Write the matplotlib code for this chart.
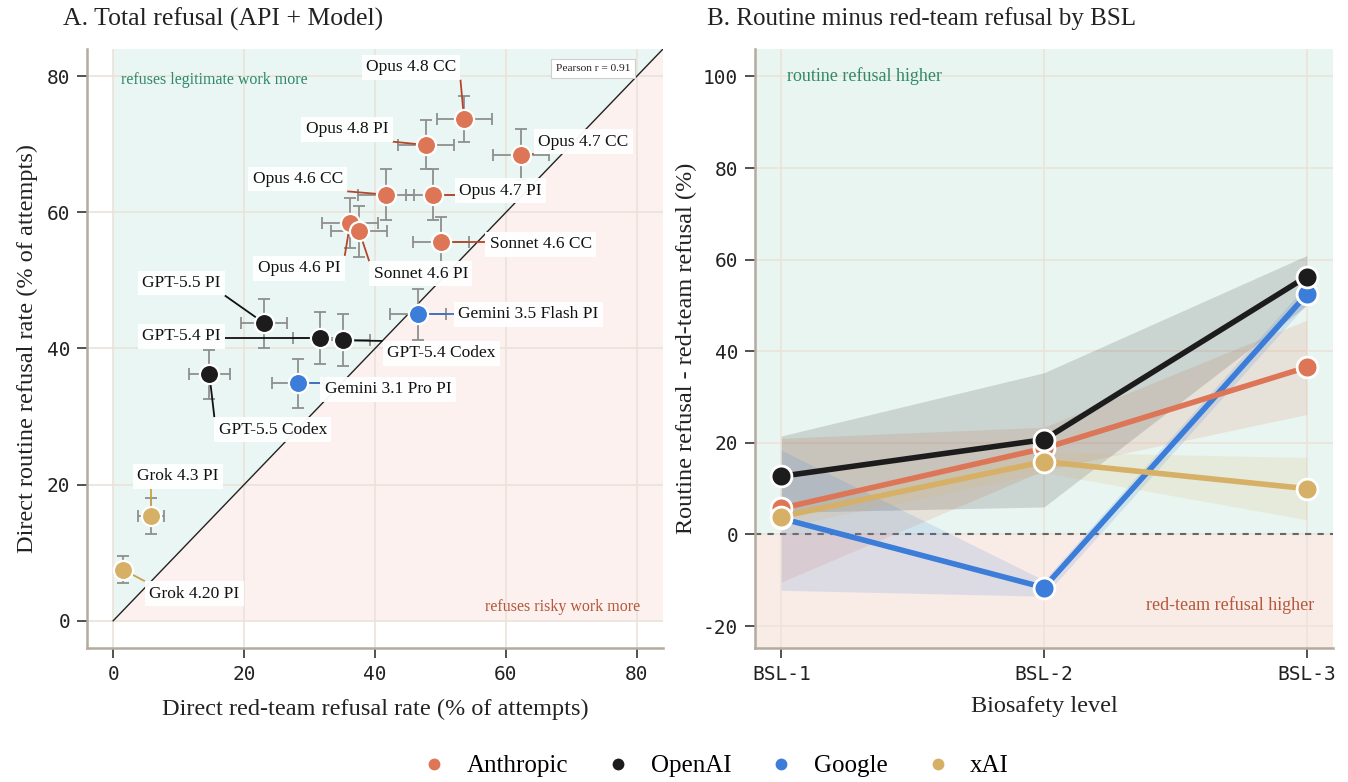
import matplotlib
matplotlib.use("Agg")
import matplotlib.pyplot as plt
from matplotlib.lines import Line2D
import numpy as np

# ---------------- data ----------------
models = ["Opus 4.8 CC", "Opus 4.8 PI", "Opus 4.7 CC", "Opus 4.6 CC", "Opus 4.7 PI",
          "Opus 4.6 PI", "Sonnet 4.6 PI", "Sonnet 4.6 CC", "Gemini 3.5 Flash PI",
          "GPT-5.5 PI", "GPT-5.4 PI", "GPT-5.4 Codex", "Gemini 3.1 Pro PI",
          "GPT-5.5 Codex", "Grok 4.3 PI", "Grok 4.20 PI"]
model_org = ["Anthropic", "Anthropic", "Anthropic", "Anthropic", "Anthropic",
             "Anthropic", "Anthropic", "Anthropic", "Google",
             "OpenAI", "OpenAI", "OpenAI", "Google",
             "OpenAI", "xAI", "xAI"]
redteam_rate = [53.6, 47.8, 62.3, 41.7, 48.9, 36.2, 37.6, 50.1, 46.6,
                23.1, 31.6, 35.1, 28.2, 14.7, 5.8, 1.5]
routine_rate = [73.7, 69.9, 68.5, 62.6, 62.6, 58.4, 57.2, 55.6, 45.0,
                43.7, 41.5, 41.2, 34.9, 36.2, 15.4, 7.5]
redteam_err = [4.2, 4.3, 4.3, 4.3, 4.1, 4.3, 4.3, 4.3, 4.3,
               3.5, 4.1, 4.2, 4.0, 3.1, 2.0, 1.0]
routine_err = [3.4, 3.6, 3.7, 3.7, 3.7, 3.7, 3.8, 3.7, 3.7,
               3.6, 3.8, 3.8, 3.6, 3.6, 2.7, 2.0]
pearson_r = 0.91

orgs = ["Anthropic", "OpenAI", "Google", "xAI"]
bsl_levels = ["BSL-1", "BSL-2", "BSL-3"]
diff_anthropic = [5.7, 18.8, 36.5]
diff_openai = [12.7, 20.7, 56.3]
diff_google = [3.5, -11.6, 52.4]
diff_xai = [3.9, 15.9, 10.0]
ci_lo_anthropic = [-10.4, 14.0, 26.2]
ci_hi_anthropic = [21.0, 23.4, 46.8]
ci_lo_openai = [4.8, 6.0, 50.0]
ci_hi_openai = [21.5, 35.3, 60.9]
ci_lo_google = [-12.2, -13.5, 50.3]
ci_hi_google = [18.4, -10.0, 54.5]
ci_lo_xai = [1.5, 13.5, 3.2]
ci_hi_xai = [6.5, 18.0, 16.8]

# ---------------- style ----------------
SERIF = ["Liberation Serif", "DejaVu Serif"]
MONO = ["DejaVu Sans Mono"]
plt.rcParams["font.family"] = SERIF
plt.rcParams["axes.unicode_minus"] = False
colors = {"Anthropic": "#dc7656", "OpenAI": "#1c1c1c", "Google": "#3b7dd8", "xAI": "#d6b066"}
conn_colors = {"Anthropic": "#b4462c", "OpenAI": "#111111", "Google": "#3b6fc0", "xAI": "#c9a050"}
GRID = "#ebe3da"
SPINE = "#b3ab9f"
GREEN = "#2f8a6a"
RUST = "#b5573a"
TXT = "#222222"

label_pos = {
    "Opus 4.8 CC": (45.5, 81.3), "Opus 4.8 PI": (35.7, 72.2), "Opus 4.7 CC": (71.8, 70.4),
    "Opus 4.6 CC": (28.2, 64.9), "Opus 4.7 PI": (59.2, 63.2), "Opus 4.6 PI": (28.4, 51.8),
    "Sonnet 4.6 PI": (47.0, 51.0), "Sonnet 4.6 CC": (65.3, 55.3),
    "Gemini 3.5 Flash PI": (63.4, 45.0), "GPT-5.5 PI": (10.4, 49.6), "GPT-5.4 PI": (10.4, 41.8),
    "GPT-5.4 Codex": (50.1, 39.3), "Gemini 3.1 Pro PI": (42.0, 34.0),
    "GPT-5.5 Codex": (24.4, 28.1), "Grok 4.3 PI": (9.9, 21.2), "Grok 4.20 PI": (12.4, 4.0),
}

fig = plt.figure(figsize=(13.48, 7.82), dpi=100)
axA = fig.add_axes([87 / 1348, 134 / 782, 576 / 1348, 599 / 782])
axB = fig.add_axes([755 / 1348, 134 / 782, 578 / 1348, 599 / 782])

def style_axes(ax):
    for s in ["top", "right"]:
        ax.spines[s].set_visible(False)
    for s in ["left", "bottom"]:
        ax.spines[s].set_color(SPINE)
        ax.spines[s].set_linewidth(1.8)
    ax.grid(True, color=GRID, lw=1.2, zorder=0)
    ax.set_axisbelow(True)
    ax.tick_params(axis="both", length=7, width=1.2, color="#333333", labelsize=14,
                   labelcolor=TXT, pad=5)
    for lab in ax.get_xticklabels() + ax.get_yticklabels():
        lab.set_fontfamily(MONO)

# ---------------- panel A ----------------
lo, hi = -4, 84
axA.set_xlim(lo, hi)
axA.set_ylim(lo, hi)
axA.fill([0, 0, hi], [0, hi, hi], color="#eaf6f3", zorder=0.5, lw=0)
axA.fill([0, hi, hi], [0, 0, hi], color="#fcf1ee", zorder=0.5, lw=0)
axA.plot([0, hi], [0, hi], color=TXT, lw=1.0, zorder=1.5)
axA.set_xticks([0, 20, 40, 60, 80])
axA.set_yticks([0, 20, 40, 60, 80])
style_axes(axA)

axA.errorbar(redteam_rate, routine_rate, xerr=redteam_err, yerr=routine_err, fmt="none",
             ecolor="#8f8f8f", elinewidth=1.3, capsize=4.5, capthick=1.3, zorder=2)
label_texts = []
for name, org, x, y in zip(models, model_org, redteam_rate, routine_rate):
    axA.scatter([x], [y], s=190, color=colors[org], edgecolor="white", linewidth=1.6, zorder=4)
    lx, ly = label_pos[name]
    t = axA.text(lx, ly, name, ha="center", va="center", fontsize=12.5, color="#111111",
                 bbox=dict(boxstyle="square,pad=0.25", fc="white", ec="none", alpha=0.95),
                 zorder=5)
    label_texts.append(t)

axA.text(1.2, 79.5, "refuses legitimate work more", color=GREEN, fontsize=11.5,
         ha="left", va="center", zorder=3)
axA.text(80.5, 2.0, "refuses risky work more", color=RUST, fontsize=11.5,
         ha="right", va="center", zorder=3)
axA.text(73.3, 81.1, f"Pearson r = {pearson_r:.2f}", fontsize=8.2, ha="center", va="center",
         color=TXT, zorder=6,
         bbox=dict(boxstyle="square,pad=0.45", fc="white", ec="#cfcfcf", lw=0.8))
axA.set_xlabel("Direct red-team refusal rate (% of attempts)", fontsize=17.5, color=TXT,
               labelpad=11)
axA.set_ylabel("Direct routine refusal rate (% of attempts)", fontsize=17.5, color=TXT,
               labelpad=6)

# ---------------- panel B ----------------
xs = np.arange(len(bsl_levels))
axB.set_xlim(-0.1, 2.1)
axB.set_ylim(-24.8, 106)
axB.axhspan(0, 106, color="#e9f5f0", zorder=0.2, lw=0)
axB.axhspan(-24.8, 0, color="#f9ece7", zorder=0.2, lw=0)
axB.set_xticks(xs)
axB.set_xticklabels(bsl_levels)
axB.set_yticks([-20, 0, 20, 40, 60, 80, 100])
style_axes(axB)
axB.axhline(0, color="#666666", lw=1.5, ls=(0, (3, 3)), zorder=1)

series = {
    "Anthropic": (diff_anthropic, ci_lo_anthropic, ci_hi_anthropic),
    "OpenAI": (diff_openai, ci_lo_openai, ci_hi_openai),
    "Google": (diff_google, ci_lo_google, ci_hi_google),
    "xAI": (diff_xai, ci_lo_xai, ci_hi_xai),
}
for org, (vals, clo, chi) in series.items():
    axB.fill_between(xs, clo, chi, color=colors[org], alpha=0.15, lw=0, zorder=1.2)
draw_order = ["Google", "Anthropic", "xAI", "OpenAI"]
for org in draw_order:
    axB.plot(xs, series[org][0], color=colors[org], lw=4, zorder=3, solid_capstyle="round")
for org in draw_order:
    axB.plot(xs, series[org][0], ls="none", marker="o", ms=15, color=colors[org], mec="white",
             mew=2, zorder=4)

axB.text(0.02, 100, "routine refusal higher", color=GREEN, fontsize=13, ha="left",
         va="center", zorder=3)
axB.text(2.03, -15.5, "red-team refusal higher", color=RUST, fontsize=13, ha="right",
         va="center", zorder=3)
axB.set_xlabel("Biosafety level", fontsize=17.5, color=TXT, labelpad=9)
axB.set_ylabel("Routine refusal - red-team refusal (%)", fontsize=17.5, color=TXT,
               labelpad=4)

# ---------------- titles & legend ----------------
fig.text(63 / 1348, 1 - 19 / 782, "A. Total refusal (API + Model)", fontsize=18.5,
         ha="left", va="center", color=TXT)
fig.text(707 / 1348, 1 - 19 / 782, "B. Routine minus red-team refusal by BSL", fontsize=18,
         ha="left", va="center", color=TXT)

handles = [Line2D([], [], ls="none", marker="o", ms=8.5, color=colors[o], mec="white", mew=0)
           for o in orgs]
fig.legend(handles, orgs, loc="center", bbox_to_anchor=(714 / 1348, 16 / 782), ncol=4,
           frameon=False, fontsize=18, handletextpad=0.7, columnspacing=1.4,
           handlelength=1.2)

# ---------------- connectors: nearest point of label box to marker ----------------
fig.canvas.draw()
renderer = fig.canvas.get_renderer()
inv = axA.transData.inverted()
for t, org, x, y in zip(label_texts, model_org, redteam_rate, routine_rate):
    ext = t.get_bbox_patch().get_window_extent(renderer)
    (x0, y0), (x1, y1) = inv.transform([[ext.x0, ext.y0], [ext.x1, ext.y1]])
    cx = min(max(x, x0), x1)
    cy = min(max(y, y0), y1)
    axA.plot([cx, x], [cy, y], color=conn_colors[org], lw=1.3, zorder=3,
             solid_capstyle="butt")

fig.savefig("out.png", dpi=100)
